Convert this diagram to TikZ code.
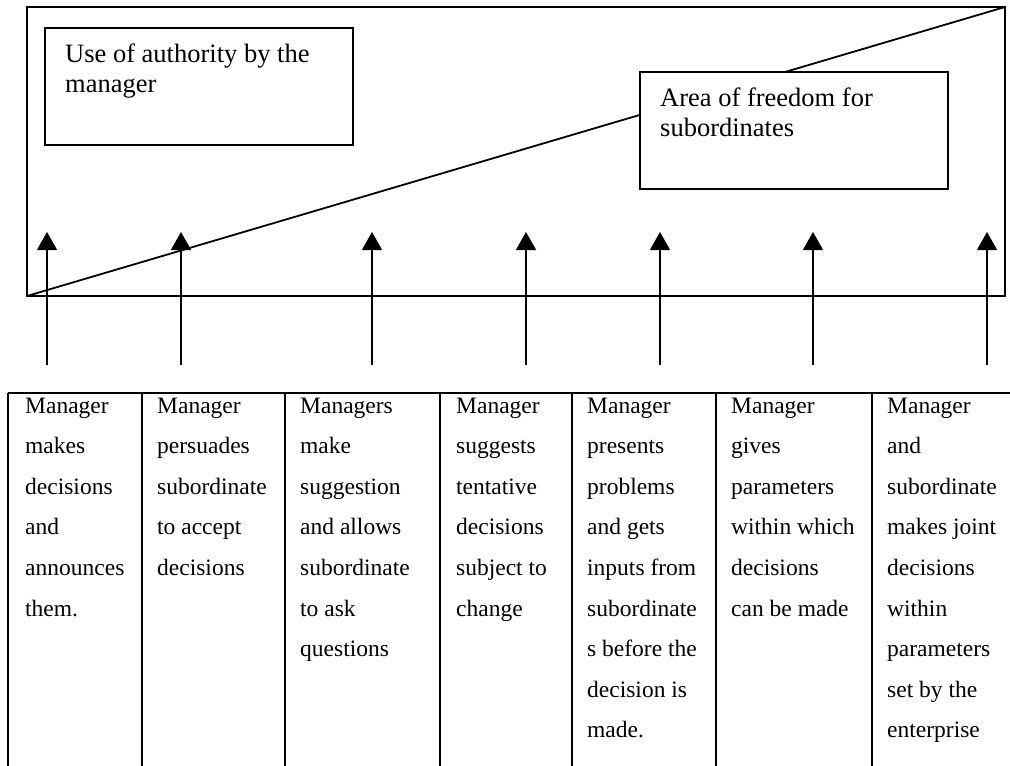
\documentclass[tikz,border=0pt]{standalone}
\usepackage{fontspec}
\setmainfont{Liberation Serif}
\usetikzlibrary{arrows.meta}
\begin{document}
\begin{tikzpicture}[x=1pt,y=-1pt,
  frame/.style={draw, line width=1.6pt, minimum width=978pt, minimum height=289pt, inner sep=0pt, outer sep=0pt, anchor=north west},
  labelbox/.style={draw, line width=1.3pt, fill=white, minimum width=308pt, minimum height=117pt, inner sep=0pt, outer sep=0pt, anchor=north west},
  boxtext/.style={anchor=north west, inner sep=0pt, align=left, font=\fontsize{26.5pt}{29.5pt}\selectfont},
  cell/.style={anchor=north west, inner sep=0pt, align=left, font=\fontsize{23.5pt}{40.6pt}\selectfont},
  uparrow/.style={line width=1.6pt, -{Triangle[length=18pt,width=20pt]}},
  gridline/.style={line width=1.2pt}]
\useasboundingbox (0,0) rectangle (1010,766);
% top frame and diagonal
\node[frame] (frame) at (27,7) {};
\draw[line width=1.8pt] (frame.south west) -- (frame.north east);
% label boxes
\node[labelbox] (auth) at (45,28) {};
\node[boxtext] (authtext) at (65,44) {Use of authority by the\\manager};
\node[labelbox] (free) at (640,72) {};
\node[boxtext] (freetext) at (660,88) {Area of freedom for\\subordinates};
% arrows
\foreach \x [count=\i] in {47,181,372,526,660,813,987} {
  \coordinate (b\i) at (\x,365);
  \coordinate (t\i) at (\x,232);
  \draw[uparrow] (b\i) -- (t\i);
}
% table
\draw[gridline] (8,393) -- (1010,393);
\foreach \x in {8,142,285,440,572,716,872}
  \draw[gridline] (\x,393) -- (\x,766);
\node[cell] (c1) at (25,397.6) {Manager\\makes\\decisions\\and\\announces\\them.};
\node[cell] (c2) at (157,397.6) {Manager\\persuades\\subordinate\\to accept\\decisions};
\node[cell] (c3) at (300,397.6) {Managers\\make\\suggestion\\and allows\\subordinate\\to ask\\questions};
\node[cell] (c4) at (456,397.6) {Manager\\suggests\\tentative\\decisions\\subject to\\change};
\node[cell] (c5) at (587,397.6) {Manager\\presents\\problems\\and gets\\inputs from\\subordinate\\s before the\\decision is\\made.};
\node[cell] (c6) at (731,397.6) {Manager\\gives\\parameters\\within which\\decisions\\can be made};
\node[cell] (c7) at (887,397.6) {Manager\\and\\subordinate\\makes joint\\decisions\\within\\parameters\\set by the\\enterprise};
\end{tikzpicture}
\end{document}
